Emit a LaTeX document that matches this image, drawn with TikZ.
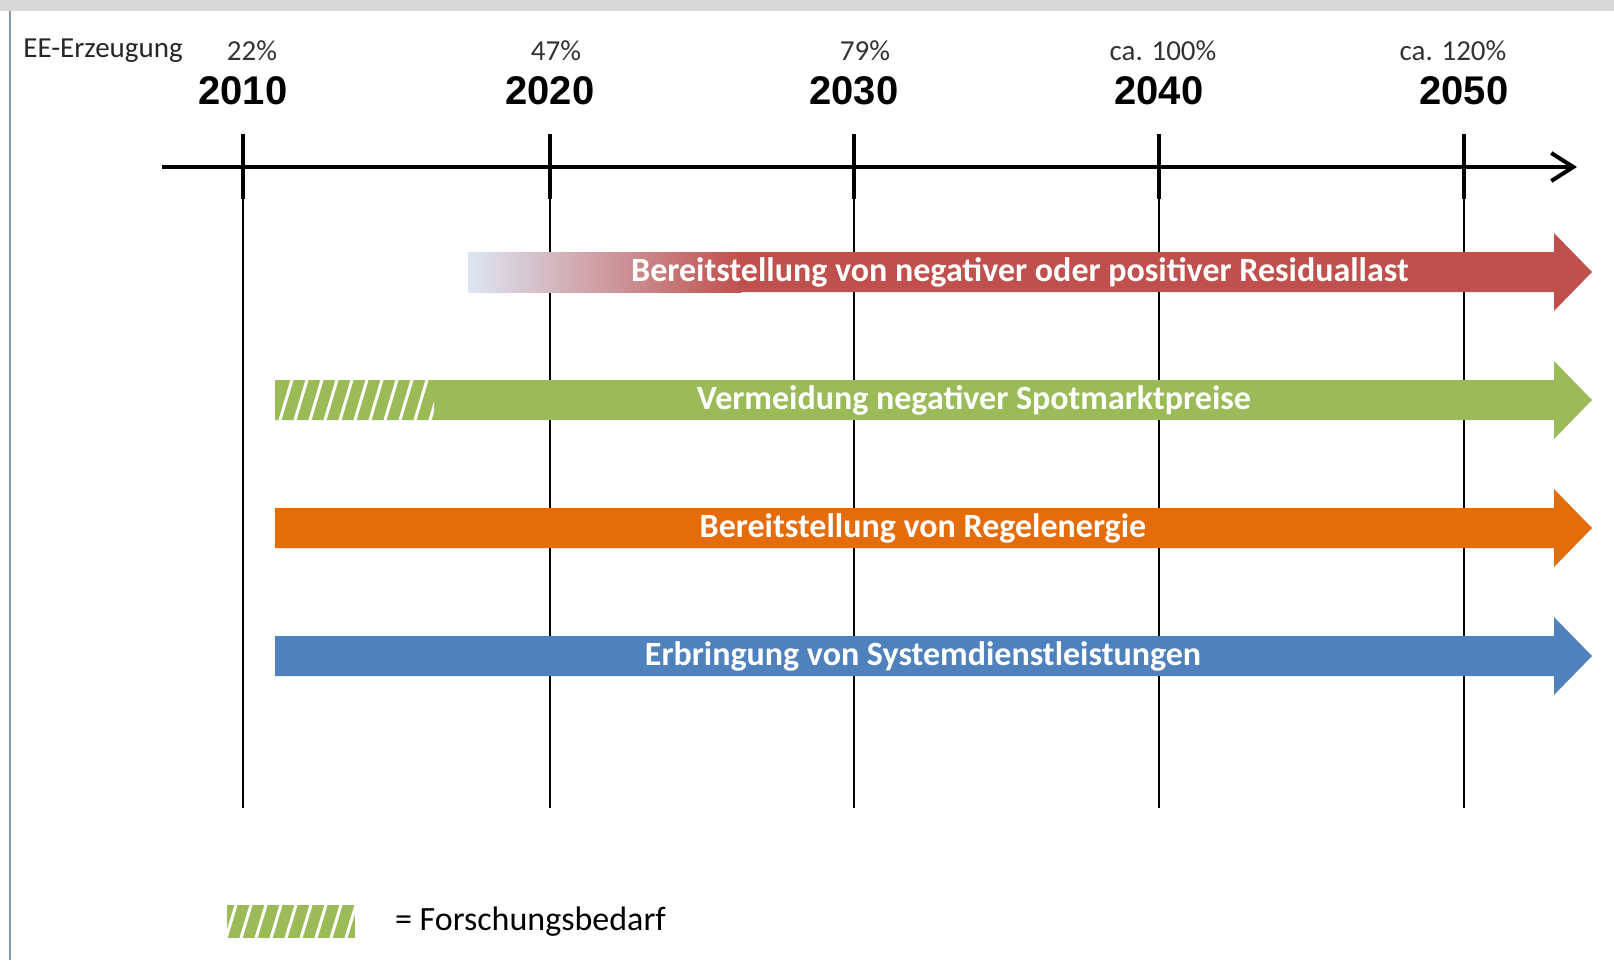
\documentclass[tikz,border=0pt]{standalone}
\usepackage{fontspec}
\setmainfont{Carlito}
\newfontfamily\jahrfont{Liberation Sans}
\usetikzlibrary{arrows.meta,calc}
\definecolor{rot}{HTML}{C0504D}
\definecolor{gruen}{HTML}{9BBB59}
\definecolor{orange}{HTML}{E46C0A}
\definecolor{blau}{HTML}{4F81BD}
\definecolor{hellblau}{HTML}{DCE6F2}
\definecolor{rahmen}{HTML}{8497B0}
\newcommand{\pfeil}[2]{
  (#1,#2-20) -- (1554,#2-20) -- (1554,#2-39) -- (1592,#2) -- (1554,#2+39) -- (1554,#2+20) -- (#1,#2+20) -- cycle}

\begin{document}
\begin{tikzpicture}[x=0.5pt,y=-0.5pt,
	jahr/.style={font=\jahrfont\bfseries\fontsize{20}{24}\selectfont},
	anteil/.style={font=\fontsize{14.5}{17}\selectfont,text=black!80},
	balken/.style={font=\bfseries\fontsize{17}{20}\selectfont,text=white}]
					\useasboundingbox (0,0) rectangle (1614,960);
					%RAHMEN
					\fill[gray!30] (0,0) rectangle (1614,11);
					\draw[rahmen,line width=1pt] (10,11) -- (10,960);
					%ACHSE
					\node[anteil,anchor=west,text=black!85,inner sep=0pt] (ee) at (23,51) {EE-Erzeugung};
					\foreach \jahr/\x/\ax/\anteil in {2010/243/252/22\%,2020/550/556/47\%,2030/854/865/79\%,2040/1159/1163/ca. 100\%,2050/1464/1453/ca. 120\%}{
						\draw[line width=0.9pt] (\x,167) -- (\x,808);
						\draw[line width=2pt] (\x,134) -- (\x,199);
						\node[anteil] (a\jahr) at (\ax,51) {\anteil};
						\node[jahr] (j\jahr) at (\x,91) {\jahr};
					}
					\draw[line width=2pt,-{Straight Barb[length=11pt,width=14pt,line width=2pt]}] (162,167) coordinate(achse) -- (1577,167);
					%PFEILE
					\shade[left color=hellblau,right color=rot] (468,252) rectangle (741,292);
					\fill[rot] \pfeil{740}{272};
					\node[balken] (residual) at (1020,272) {Bereitstellung von negativer oder positiver Residuallast};
					\fill[gruen] \pfeil{275}{400};
					\begin{scope}
						\clip (275,380) rectangle (434,420);
						\foreach \i in {0,...,10}
							\draw[white,line width=1.5pt] (280+\i*15,420) -- ++(12,-40);
					\end{scope}
					\node[balken] (spot) at (974,400) {Vermeidung negativer Spotmarktpreise};
					\fill[orange] \pfeil{275}{528};
					\node[balken] (regel) at (923,528) {Bereitstellung von Regelenergie};
					\fill[blau] \pfeil{275}{656};
					\node[balken] (system) at (923,656) {Erbringung von Systemdienstleistungen};
					%LEGENDE
					\fill[gruen] (227,905) rectangle (355,938);
					\begin{scope}
						\clip (227,905) rectangle (355,938);
						\foreach \i in {0,...,8}
							\draw[white,line width=1.5pt] (226+\i*15,938) -- ++(10,-33);
					\end{scope}
					\node[anchor=west,font=\fontsize{17}{20}\selectfont] (forschung) at (388,922) {= Forschungsbedarf};
\end{tikzpicture}
\end{document}
